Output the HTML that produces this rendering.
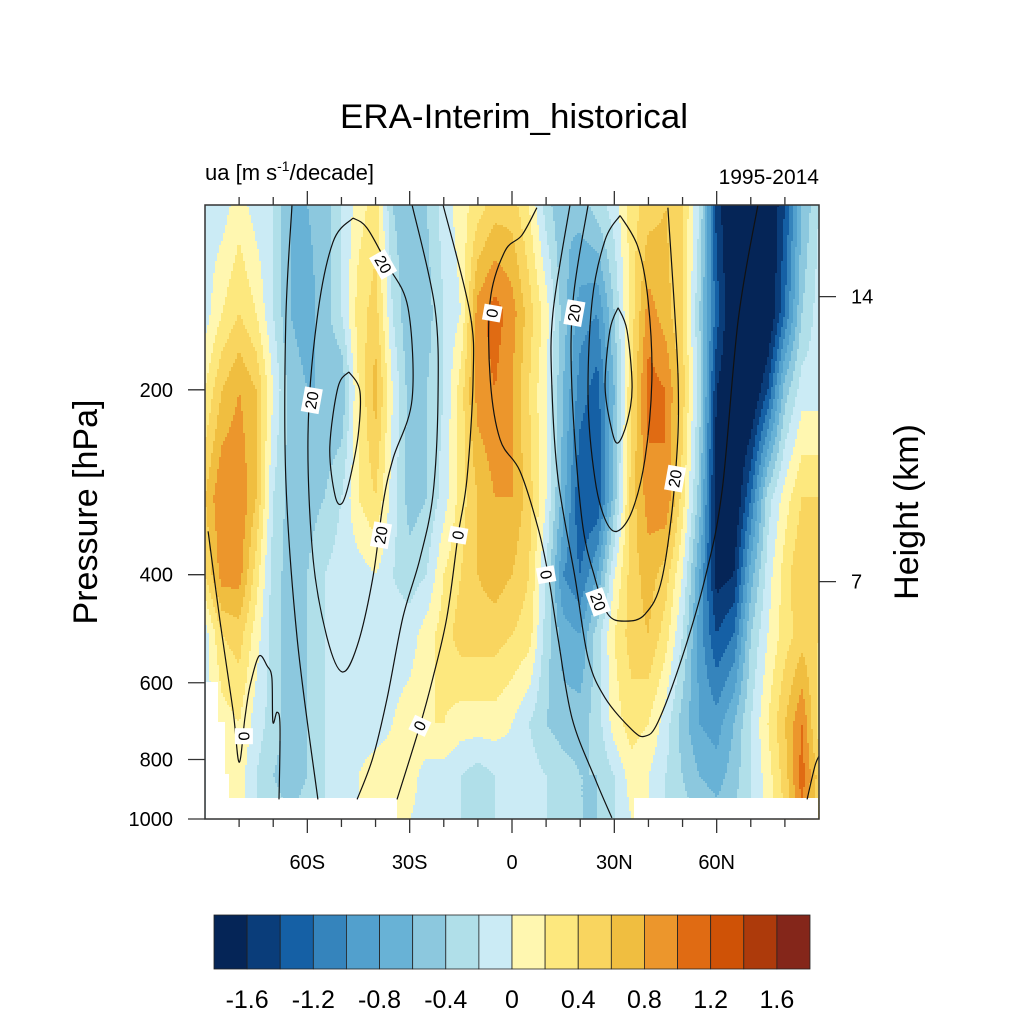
<!DOCTYPE html>
<html><head><meta charset="utf-8"><title>ERA-Interim_historical</title>
<style>html,body{margin:0;padding:0;background:#fff}svg{display:block;font-family:"Liberation Sans",sans-serif}</style>
</head><body>
<svg id="chart" width="1024" height="1024" viewBox="0 0 1024 1024" xmlns="http://www.w3.org/2000/svg">
<rect x="0" y="0" width="1024" height="1024" fill="#fff"/>
<text x="514" y="128" text-anchor="middle" font-size="34" textLength="348" lengthAdjust="spacingAndGlyphs">ERA-Interim_historical</text>
<text x="205" y="180" font-size="22">ua [m s<tspan dy="-9" font-size="14">-1</tspan><tspan dy="9">/decade]</tspan></text>
<text x="819" y="184" font-size="21" text-anchor="end">1995-2014</text>
<g id="field"></g>
<g id="mask"></g>
<g id="contours"></g>
<g id="clabels"></g>
<rect x="205" y="205" width="614" height="614" fill="none" stroke="#333" stroke-width="1.5"/>
<g id="axes"></g>
<text transform="translate(97,512) rotate(-90)" text-anchor="middle" font-size="34">Pressure [hPa]</text>
<text transform="translate(918,512) rotate(-90)" text-anchor="middle" font-size="34">Height (km)</text>
<g id="colorbar"></g>
</svg>
<script>
const lats = [-90,-85,-80,-75,-70,-65,-60,-55,-50,-45,-40,-35,-30,-25,-20,-15,-10,-5,0,5,10,15,20,25,30,35,40,45,50,55,60,65,70,75,80,85,90];
const levels = [100,150,200,300,400,500,700,850,1000];
const u100 = [-0.1,-0.1,0.1,-0.1,-0.2,-0.6,-0.6,-0.5,-0.2,0.1,0.3,-0.4,-0.6,-0.4,-0.1,0.1,0.3,0.5,0.5,0.2,-0.3,-0.6,-0.5,-0.3,-0.1,0.3,0.5,0.6,0.4,-0.2,-1.5,-1.9,-1.9,-1.9,-1.4,-0.6,-0.2];
const u150 = [-0.1,0.2,0.4,0.2,-0.2,-0.6,-0.7,-0.5,-0.2,0.3,0.5,-0.2,-0.6,-0.5,-0.2,0.0,0.9,1.1,0.9,0.5,0.1,-0.5,-0.9,-1.0,-0.4,0.3,0.9,0.7,0.4,-0.4,-1.3,-1.9,-1.9,-1.9,-1.2,-0.4,-0.1];
const u200 = [0.2,0.6,0.8,0.6,0.0,-0.5,-0.6,-0.6,-0.6,0.2,0.7,0.0,-0.5,-0.4,-0.2,0.3,0.9,1.0,0.8,0.4,0.0,-0.6,-1.1,-1.3,-0.6,0.4,1.1,1.0,0.5,-0.3,-1.6,-1.9,-1.9,-1.4,-0.5,-0.1,-0.1];
const u300 = [0.6,1.0,1.0,0.6,-0.2,-0.5,-0.5,-0.4,-0.2,0.2,0.4,-0.1,-0.5,-0.4,-0.1,0.3,0.6,0.8,0.8,0.5,0.0,-0.7,-1.4,-1.4,-0.5,0.5,0.9,1.0,0.3,-0.5,-1.8,-1.9,-1.2,-0.3,0.1,0.4,0.4];
const u400 = [0.4,0.9,0.9,0.3,-0.3,-0.5,-0.4,-0.2,-0.1,-0.1,0.0,-0.2,-0.3,-0.2,0.2,0.4,0.6,0.7,0.6,0.4,-0.2,-1.0,-1.2,-0.8,0.0,0.5,0.7,0.5,0.0,-0.8,-1.7,-1.6,-0.7,-0.1,0.3,0.6,0.5];
const u500 = [-0.1,0.4,0.5,0.1,-0.3,-0.5,-0.4,-0.2,-0.1,-0.1,-0.1,-0.1,-0.1,0.1,0.3,0.5,0.5,0.5,0.4,0.3,-0.3,-0.7,-0.8,-0.3,0.2,0.5,0.6,0.3,-0.2,-0.9,-1.4,-1.2,-0.4,0.0,0.3,0.5,0.4];
const u700 = [-0.1,0.1,0.2,-0.1,-0.3,-0.5,-0.4,-0.2,-0.1,-0.1,-0.1,0.0,0.1,0.2,0.2,0.1,0.1,0.1,0.0,-0.2,-0.4,-0.5,-0.5,-0.3,0.1,0.3,0.2,-0.1,-0.5,-0.8,-0.9,-0.6,-0.2,0.2,0.6,1.0,0.3];
const u850 = [-0.1,0.1,0.1,-0.2,-0.4,-0.5,-0.4,-0.2,-0.1,0.0,0.1,0.1,0.1,-0.1,-0.1,-0.2,-0.3,-0.2,-0.1,-0.1,-0.2,-0.3,-0.4,-0.4,-0.2,0.1,0.0,-0.2,-0.4,-0.6,-0.7,-0.5,-0.2,0.1,0.5,1.1,0.5];
const u1000 = [-0.1,0.0,0.1,-0.2,-0.3,-0.4,-0.3,-0.2,-0.1,0.0,0.1,0.1,0.0,-0.1,-0.1,-0.2,-0.2,-0.2,-0.1,-0.1,-0.2,-0.3,-0.4,-0.4,-0.2,0.0,0.0,-0.2,-0.3,-0.4,-0.5,-0.4,-0.2,0.1,0.4,1.0,0.4];
const fieldRows = [u100,u150,u200,u300,u400,u500,u700,u850,u1000];
const cbColors = ["#052557","#0a3d7a","#1560a5","#3584bc","#52a0cd","#68b2d6","#8cc8de","#b0dfe9","#cbebf5","#fff7b0","#fde87e","#f9d55f","#f0be40","#ec962c","#e06b13","#cf5206","#ad3a0b","#84261a"];
const cbLabels = ["-1.6","-1.2","-0.8","-0.4","0","0.4","0.8","1.2","1.6"];
const pTicks = [200,400,600,800,1000];
const latTicks = [-60,-30,0,30,60];
const latTickLabels = ["60S","30S","0","30N","60N"];
const hTicks = [14,7];
// contour lines: [lat, pressure]
const cPolarSH = [[-89.1,340],[-85.6,476],[-81.8,665],[-80.0,808],[-78.3,685],[-76.8,607],[-74.2,543],[-71.8,563],[-70.4,589],[-70.1,695],[-68.9,670],[-68.0,705],[-68.3,929]];
const cLineA = [[-64.5,100],[-66.3,154],[-66.3,279],[-63.0,507],[-56.9,929]];
const cJetSH = [[-46.6,105],[-52.5,115],[-57.2,154],[-59.8,237],[-58.3,377],[-54.2,507],[-49.8,576],[-45.4,523],[-40.8,405],[-37.8,306],[-34.9,259],[-29.3,207],[-30.5,147],[-36.6,125],[-42.5,109],[-46.6,105]];
const cJetSHin = [[-47.8,187],[-51.0,198],[-53.4,248],[-51.9,297],[-49.8,306],[-47.5,279],[-45.1,237],[-44.6,201],[-47.8,187]];
const cLineB = [[-29.3,100],[-22.6,147],[-21.7,207],[-23.2,297],[-27.0,377],[-32.0,470],[-36.6,635],[-40.8,795],[-45.4,929]];
const cZeroA = [[-20.2,100],[-12.3,150],[-11.4,192],[-13.2,279],[-15.8,345],[-19.1,470],[-23.2,589],[-27.0,705],[-33.7,929]];
const cZeroB = [[7.3,101],[2.9,112],[-2.1,119],[-6.4,143],[-6.4,192],[-3.5,241],[2.3,271],[7.6,335],[10.6,400],[13.5,507],[17.6,685],[24.3,858],[29.3,996]];
const cOuterNH = [[17.0,100],[12.0,150],[11.7,198],[13.5,279],[18.5,405],[22.3,547],[27.3,635],[35.2,716],[39.0,733],[42.8,695],[49.8,547],[56.6,405],[61.6,292],[66.3,154],[72.1,100]];
const cMidNH = [[22.3,100],[17.9,143],[17.6,201],[20.5,325],[24.3,405],[28.1,464],[33.1,476],[39.0,464],[44.0,405],[47.8,279],[48.7,192],[45.7,101]];
const cJetNH = [[31.7,104],[27.3,114],[23.5,143],[22.3,207],[24.3,279],[27.3,325],[30.8,340],[35.2,315],[39.0,259],[41.0,192],[39.9,143],[36.9,117],[31.7,104]];
const cJetNHin = [[31.1,147],[28.7,160],[27.3,198],[29.3,233],[31.1,244],[33.7,226],[35.2,198],[33.7,160],[31.1,147]];
const cPolarNH = [[90,790],[88.8,820],[86.5,929]];
const contourSets = [cPolarSH,cLineA,cJetSH,cJetSHin,cLineB,cZeroA,cZeroB,cOuterNH,cMidNH,cJetNH,cJetNHin,cPolarNH];
const labelLats = [-37.8,-5.8,-58.7,-38.4,-15.8,10.0,18.3,47.8,25.2,-27.0,-78.6];
const labelPs = [125,150,208,345,345,400,150,279,443,705,733];
const labelTexts = ["20","0","20","20","0","0","20","20","20","0","0"];
const labelRot = [60,-80,-80,-80,-80,80,-80,-80,70,-65,-90];

const X0=205,X1=819,Y0=205,Y1=819;
const xS = lat => X0 + (lat+90)/180*(X1-X0);
const yS = p => Y1 - Math.log(1000/p)/Math.log(10)*(Y1-Y0);
const pOfZ = km => { const z=km*1000; return z<=11000 ? 1013.25*Math.pow(1-2.25577e-5*z,5.25588) : 226.32*Math.exp(-(z-11000)/6341.6); };
const NS="http://www.w3.org/2000/svg";
function mk(tag, attrs, parent){const e=document.createElementNS(NS,tag);for(const k in attrs)e.setAttribute(k,attrs[k]);parent.appendChild(e);return e;}
function colorOf(v){let i=Math.floor((v+1.8)/0.2);if(i<0)i=0;if(i>17)i=17;return cbColors[i];}
function sample(lat,p){
  let i=0;while(i<lats.length-2&&lat>lats[i+1])i++;
  const tx=Math.min(1,Math.max(0,(lat-lats[i])/(lats[i+1]-lats[i])));
  const lp=Math.log(p);let j=0;while(j<levels.length-2&&p>levels[j+1])j++;
  const ty=Math.min(1,Math.max(0,(lp-Math.log(levels[j]))/(Math.log(levels[j+1])-Math.log(levels[j]))));
  const a=fieldRows[j][i]*(1-tx)+fieldRows[j][i+1]*tx;
  const b=fieldRows[j+1][i]*(1-tx)+fieldRows[j+1][i+1]*tx;
  return a*(1-ty)+b*ty;
}
// field
const fg=document.getElementById('field');
const step=2;
for(let y=Y0;y<Y1;y+=step){
  const p=1000*Math.pow(10,-(Y1-(y+step/2))/(Y1-Y0));
  let runStart=X0,runCol=null;
  for(let x=X0;;x+=step){
    const done = x>=X1;
    let col=null;
    if(!done){const lat=(x+step/2-X0)/(X1-X0)*180-90;col=colorOf(sample(lat,p));}
    if(col!==runCol){
      if(runCol!==null){
        const r=mk('rect',{x:runStart,y:y,width:Math.min(x,X1)-runStart+0.6,height:step+0.6,fill:runCol},fg);
        
        
      }
      runStart=x;runCol=col;
    }
    if(done)break;
  }
}
// mask
const mg=document.getElementById('mask');
[[206,798,191,21],[634,798,184,21],[206,682,12,40],[206,722,19,52],[206,774,23,24]].forEach(m=>{
  const r=mk('rect',{x:m[0],y:m[1],width:m[2],height:m[3],fill:'#fff'},mg);
  
  
});
// contours
const cg=document.getElementById('contours');
contourSets.forEach(c=>{
  const pts=c.map(q=>[xS(q[0]),yS(q[1])]);
  let d='M'+pts[0][0].toFixed(1)+','+pts[0][1].toFixed(1);
  for(let k=0;k<pts.length-1;k++){
    const p0=pts[Math.max(0,k-1)],p1=pts[k],p2=pts[k+1],p3=pts[Math.min(pts.length-1,k+2)];
    const c1=[p1[0]+(p2[0]-p0[0])/6,p1[1]+(p2[1]-p0[1])/6],c2=[p2[0]-(p3[0]-p1[0])/6,p2[1]-(p3[1]-p1[1])/6];
    d+=' C'+c1[0].toFixed(1)+','+c1[1].toFixed(1)+' '+c2[0].toFixed(1)+','+c2[1].toFixed(1)+' '+p2[0].toFixed(1)+','+p2[1].toFixed(1);
  }
  const e=mk('path',{d:d,fill:'none',stroke:'#111','stroke-width':1.2},cg);
  
  
});
const lg=document.getElementById('clabels');
labelTexts.forEach((t,k)=>{
  const g=mk('g',{transform:'translate('+xS(labelLats[k]).toFixed(1)+','+yS(labelPs[k]).toFixed(1)+') rotate('+labelRot[k]+')'},lg);
  
  
  const w=t.length*9+7;
  mk('rect',{x:-w/2,y:-9,width:w,height:18,fill:'#fff'},g);
  const tx=mk('text',{x:0,y:5.5,'text-anchor':'middle','font-size':16},g);tx.textContent=t;
});
// axes
const ag=document.getElementById('axes');
for(let lat=-80;lat<=80;lat+=10){
  const x=xS(lat),major=(lat%30===0);const L=major?14:8;
  let t=mk('line',{x1:x,y1:Y0,x2:x,y2:Y0-L,stroke:'#333','stroke-width':1.3},ag);
  
  t=mk('line',{x1:x,y1:Y1,x2:x,y2:Y1+L,stroke:'#333','stroke-width':1.3},ag);
  
}
latTicks.forEach((lat,k)=>{
  const t=mk('text',{x:xS(lat),y:869,'text-anchor':'middle','font-size':20},ag);
  
  t.textContent=latTickLabels[k];
});
pTicks.forEach(p=>{
  const y=yS(p);
  const l=mk('line',{x1:X0,y1:y,x2:X0-17,y2:y,stroke:'#333','stroke-width':1.3},ag);
  
  const t=mk('text',{x:173,y:y+7,'text-anchor':'end','font-size':20},ag);
  
  t.textContent=String(p);
});
hTicks.forEach(h=>{
  const y=yS(pOfZ(h));
  const l=mk('line',{x1:X1,y1:y,x2:X1+17,y2:y,stroke:'#333','stroke-width':1.3},ag);
  
  const t=mk('text',{x:851,y:y+7,'font-size':20},ag);
  
  t.textContent=String(h);
});
// colorbar
const cb=document.getElementById('colorbar');
const CX0=214,CX1=810,CY0=915,CY1=969,bw=(CX1-CX0)/cbColors.length;
cbColors.forEach((c,k)=>{
  const r=mk('rect',{x:CX0+k*bw,y:CY0,width:bw,height:CY1-CY0,fill:c,stroke:'#222','stroke-width':0.8},cb);
  
});
cbLabels.forEach((s,k)=>{
  const t=mk('text',{x:CX0+(2*k+1)*bw,y:1008,'text-anchor':'middle','font-size':25},cb);
  
  t.textContent=s;
});
</script>
</body></html>
